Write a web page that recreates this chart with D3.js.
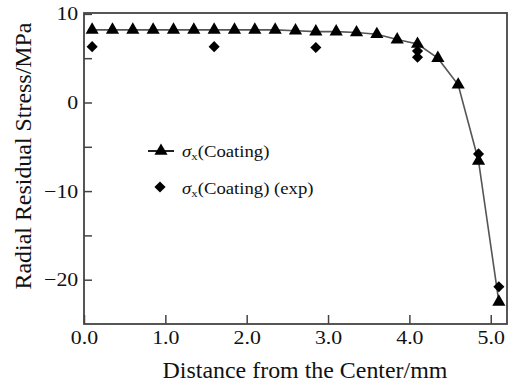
<!DOCTYPE html>
<html>
<head>
<meta charset="utf-8">
<script src="https://cdn.jsdelivr.net/npm/d3@7"></script>
<style>
  body { margin: 0; background: #fff; }
  text { font-family: "Liberation Serif", "Times New Roman", serif; fill: #111; }
</style>
</head>
<body>
<div id="container"></div>
<script>
const w = 511;
const h = 382;

// model curve (triangles)
let modelX = [0.1, 0.35, 0.6, 0.85, 1.1, 1.35, 1.6, 1.85, 2.1, 2.35, 2.6, 2.85, 3.1, 3.35, 3.6, 3.85, 4.1, 4.35, 4.6, 4.85, 5.1];
let modelY = [8.2, 8.2, 8.2, 8.2, 8.2, 8.2, 8.2, 8.2, 8.2, 8.2, 8.1, 8.0, 8.0, 7.9, 7.7, 7.1, 6.6, 5.0, 2.0, -6.6, -22.5];

// experiment points (diamonds)
let expX = [0.1, 1.6, 2.85, 4.1, 4.1, 4.85, 5.1];
let expY = [6.3, 6.3, 6.2, 5.8, 5.1, -5.8, -20.8];

let xTicks = [0, 1, 2, 3, 4, 5];
let yTicks = [10, 0, -10, -20];
let yMinor = [5, -5, -15];

let legendLabels = ["(Coating)", "(Coating) (exp)"];

let xScale = d3.scaleLinear().domain([0, 5.2]).range([84, 507]);
let yScale = d3.scaleLinear().domain([-25, 10.1]).range([324, 13]);

let viz = d3.select("#container").append("svg").attr("width", w).attr("height", h);

// x axis, ticks inward
let xAxis = d3.axisBottom(xScale).tickValues(xTicks).tickSize(-9).tickPadding(7).tickFormat(d3.format(".1f"));
let xAxisGroup = viz.append("g").attr("class", "xaxis").attr("transform", "translate(0," + 324 + ")");
xAxisGroup.call(xAxis);

// y axis, ticks inward
let yAxis = d3.axisLeft(yScale).tickValues(yTicks).tickSize(-8).tickPadding(5);
let yAxisGroup = viz.append("g").attr("class", "yaxis").attr("transform", "translate(84,0)");
yAxisGroup.call(yAxis);

let yMinorAxis = d3.axisLeft(yScale).tickValues(yMinor).tickSize(-8).tickFormat("");
viz.append("g").attr("transform", "translate(84,0)").call(yMinorAxis).select(".domain").remove();

viz.selectAll(".xaxis .domain, .yaxis .domain").remove();
viz.selectAll(".tick line").attr("stroke", "#444").attr("stroke-width", 1.5);
viz.selectAll(".tick text").attr("font-size", 19).attr("font-family", "Liberation Serif").attr("fill", "#111")
  .attr("transform", "scale(1.15,1)");

// frame
viz.append("rect")
  .attr("x", xScale(0)).attr("y", yScale(10.1))
  .attr("width", xScale(5.2) - xScale(0)).attr("height", yScale(-25) - yScale(10.1))
  .attr("fill", "none").attr("stroke", "#444").attr("stroke-width", 1.8);

// model line
let line = d3.line().x(function(d, i){ return xScale(modelX[i]) }).y(function(d){ return yScale(d) });
viz.append("path").datum(modelY).attr("d", line).attr("fill", "none").attr("stroke", "#555").attr("stroke-width", 1.6);

let tri = d3.symbol().type(d3.symbolTriangle).size(75);
let dia = d3.symbol().type(d3.symbolSquare).size(62);

viz.selectAll(".tri").data(modelY).enter().append("path")
  .attr("d", tri)
  .attr("transform", function(d, i){ return "translate(" + xScale(modelX[i]) + "," + yScale(d) + ")" })
  .attr("fill", "#000");

viz.selectAll(".dia").data(expY).enter().append("path")
  .attr("d", dia)
  .attr("transform", function(d, i){ return "translate(" + xScale(expX[i]) + "," + yScale(d) + ") rotate(45)" })
  .attr("fill", "#000");

// legend
viz.append("line").attr("x1", 148).attr("x2", 174).attr("y1", 151).attr("y2", 151).attr("stroke", "#222").attr("stroke-width", 2);
viz.append("path").attr("d", tri).attr("transform", "translate(161,151)").attr("fill", "#000");
viz.append("path").attr("d", dia).attr("transform", "translate(160,187) rotate(45)").attr("fill", "#000");

legendLabels.forEach(function(lbl, i){
  let t = viz.append("text").attr("transform", "translate(182," + (157 + i * 37) + ") scale(1.17,1)").attr("font-size", 16);
  t.append("tspan").attr("font-style", "italic").text("σ");
  t.append("tspan").attr("font-size", 11).attr("dy", 3).text("x");
  t.append("tspan").attr("dy", -3).text(lbl);
});

// axis titles
viz.append("text").attr("transform", "translate(305,378) scale(1.04,1)").attr("text-anchor", "middle").attr("font-size", 23)
  .text("Distance from the Center/mm");
viz.append("text").attr("transform", "translate(31,156) rotate(-90) scale(1.04,1)").attr("text-anchor", "middle").attr("font-size", 23)
  .text("Radial Residual Stress/MPa");
</script>
</body>
</html>
